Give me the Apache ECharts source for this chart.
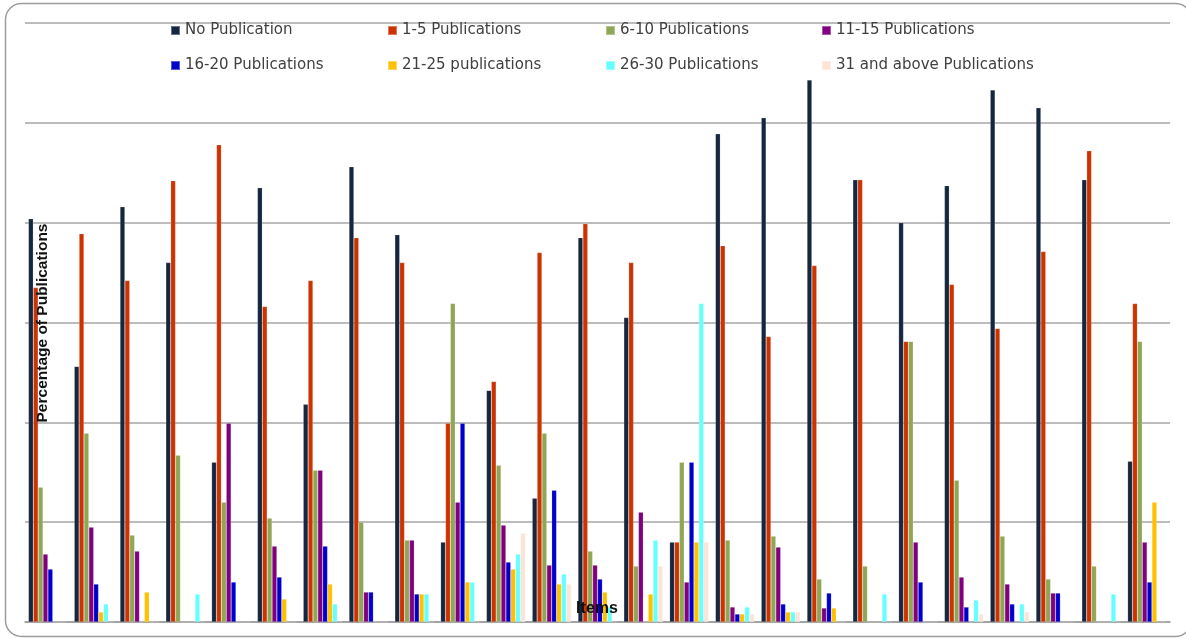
<!DOCTYPE html>
<html>
<head>
<meta charset="utf-8">
<title>Publications per item</title>
<script src="https://cdn.jsdelivr.net/npm/echarts@6/dist/echarts.min.js"></script>
<style>
  html, body { margin: 0; padding: 0; background: #ffffff; }
  #chart { width: 1186px; height: 639px; }
</style>
</head>
<body>
<div id="chart"></div>
<script>
// Item groups along the x axis (unlabelled in the chart)
const items = ['1','2','3','4','5','6','7','8','9','10','11','12','13',
               '14','15','16','17','18','19','20','21','22','23','24','25'];

const seriesNames = ['No Publication', '1-5 Publications', '6-10 Publications', '11-15 Publications',
                     '16-20 Publications', '21-25 publications', '26-30 Publications', '31 and above Publications'];

// Percentage of respondents per publication band, one value per item
const noPublication = [40.4, 25.6, 41.6, 36.0, 16.0, 43.5, 21.8, 45.6, 38.8, 8.0, 23.2, 12.4, 38.5,
                       30.5, 8.0, 48.9, 50.5, 54.3, 44.3, 40.0, 43.7, 53.3, 51.5, 44.3, 16.1];
const pub1to5 = [33.5, 38.9, 34.2, 44.2, 47.8, 31.6, 34.2, 38.5, 36.0, 19.9, 24.1, 37.0, 39.9,
                 36.0, 8.0, 37.7, 28.6, 35.7, 44.3, 28.1, 33.8, 29.4, 37.1, 47.2, 31.9];
const pub6to10 = [13.5, 18.9, 8.7, 16.7, 12.0, 10.4, 15.2, 10.0, 8.2, 31.9, 15.7, 18.9, 7.1,
                  5.6, 16.0, 8.2, 8.6, 4.3, 5.6, 28.1, 14.2, 8.6, 4.3, 5.6, 28.1];
const pub11to15 = [6.8, 9.5, 7.1, 0, 19.9, 7.6, 15.2, 3.0, 8.2, 12.0, 9.7, 5.7, 5.7,
                   11.0, 4.0, 1.5, 7.5, 1.4, 0, 8.0, 4.5, 3.8, 2.9, 0, 8.0];
const pub16to20 = [5.3, 3.8, 0, 0, 4.0, 4.5, 7.6, 3.0, 2.8, 19.9, 6.0, 13.2, 4.3,
                   0, 16.0, 0.8, 1.8, 2.9, 0, 4.0, 1.5, 1.8, 2.9, 0, 4.0];
const pub21to25 = [0, 1.0, 3.0, 0, 0, 2.3, 3.8, 0, 2.8, 4.0, 5.3, 3.8, 3.0,
                   2.8, 8.0, 0.8, 1.0, 1.4, 0, 0, 0, 0, 0, 0, 12.0];
const pub26to30 = [0, 1.8, 0, 2.8, 0, 0, 1.8, 0, 2.8, 4.0, 6.8, 4.8, 1.5,
                   8.2, 31.9, 1.5, 1.0, 0, 2.8, 0, 2.2, 1.8, 0, 2.8, 0];
const pub31plus = [0, 0, 0, 0, 0, 0, 0, 0, 0, 0, 8.9, 3.8, 0,
                   5.6, 8.0, 0.8, 1.0, 0, 0, 0, 0.8, 1.0, 0, 0, 0];

// Value axis: 0 to 60 percent, gridline every 10 (labels not shown)
const yMin = 0;
const yMax = 60;
const yStep = 10;

const seriesData = [noPublication, pub1to5, pub6to10, pub11to15, pub16to20, pub21to25, pub26to30, pub31plus];
const colors = ['#15263f', '#cc3300', '#8ea655', '#800080', '#0000cc', '#ffc000', '#66ffff', '#fce4d6'];

const chart = echarts.init(document.getElementById('chart'), null, { renderer: 'canvas' });

// Legend laid out as four columns of two entries each
const legendText = { color: '#404040', fontSize: 15, fontFamily: 'DejaVu Sans', lineHeight: 14 };
const legendColumns = [170, 387, 605, 821];
const legends = legendColumns.map((left, i) => ({
  orient: 'vertical',
  left: left,
  top: 23,
  padding: 0,
  itemWidth: 9,
  itemHeight: 9,
  itemGap: 20,
  icon: 'rect',
  selectedMode: false,
  textStyle: legendText,
  data: [seriesNames[i], seriesNames[i + 4]]
}));

const option = {
  backgroundColor: '#ffffff',
  animation: false,
  color: colors,
  legend: legends,
  grid: { left: 25, right: 16, top: 23, bottom: 17, containLabel: false },
  xAxis: {
    type: 'category',
    data: items,
    axisLabel: { show: false },
    axisTick: { show: false },
    axisLine: { show: true, lineStyle: { color: '#9a9a9a', width: 1.5 } },
    splitLine: { show: false }
  },
  yAxis: {
    type: 'value',
    min: yMin,
    max: yMax,
    interval: yStep,
    axisLabel: { show: false },
    axisTick: { show: false },
    axisLine: { show: false },
    splitLine: { show: true, lineStyle: { color: '#a6a6a6', width: 1.5 } }
  },
  series: seriesNames.map((name, i) => ({
    name: name,
    type: 'bar',
    data: seriesData[i],
    barGap: '0%',
    barCategoryGap: '15%',
    itemStyle: { color: colors[i], borderColor: 'rgba(255,255,255,0.35)', borderWidth: 0.5 }
  })),
  graphic: [
    {
      type: 'rect',
      z: -10,
      silent: true,
      shape: { x: 5.5, y: 3.5, width: 1186, height: 633, r: 16 },
      style: { fill: 'none', stroke: '#9c9c9c', lineWidth: 1.5 }
    },
    {
      type: 'text',
      z: 100,
      silent: true,
      x: 42.5,
      y: 323,
      rotation: Math.PI / 2,
      style: {
        text: 'Percentage of Publications',
        fill: '#111111',
        font: 'bold 15.5px "Liberation Sans", Arial, sans-serif',
        align: 'center',
        verticalAlign: 'middle'
      }
    },
    {
      type: 'text',
      z: 100,
      silent: true,
      x: 597,
      y: 609,
      style: {
        text: 'Items',
        fill: '#111111',
        font: 'bold 16px "Liberation Sans", Arial, sans-serif',
        align: 'center',
        verticalAlign: 'middle'
      }
    }
  ]
};

chart.setOption(option);
</script>
</body>
</html>
